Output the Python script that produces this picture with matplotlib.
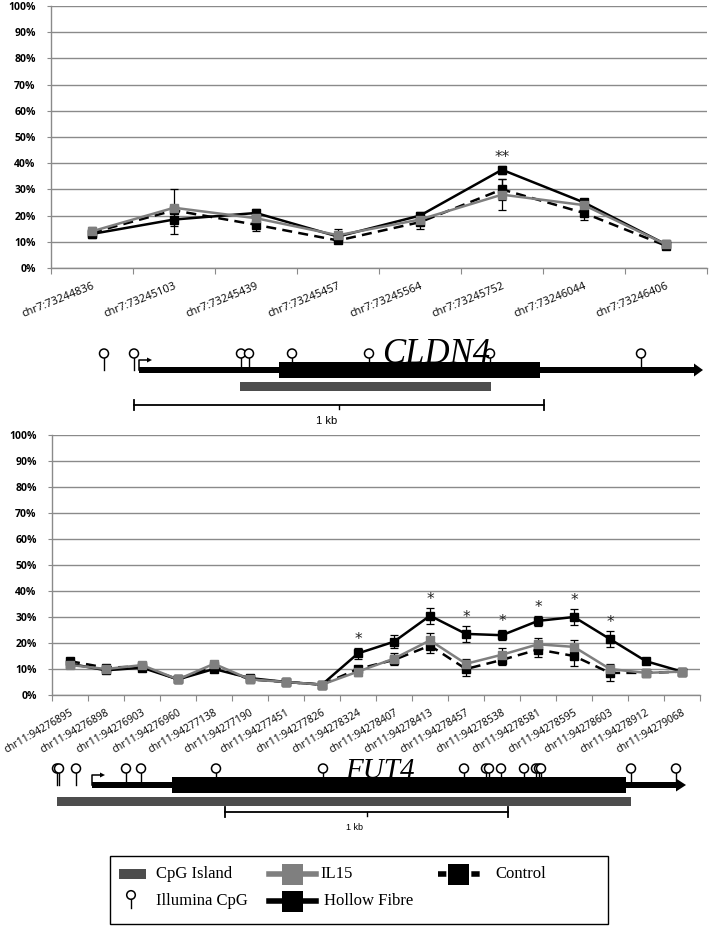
import matplotlib
matplotlib.use("Agg")
import matplotlib.pyplot as plt
from matplotlib.patches import Rectangle, Polygon, Circle

# ---------------- data ----------------
cldn4_sites = ["chr7:73244836", "chr7:73245103", "chr7:73245439", "chr7:73245457",
               "chr7:73245564", "chr7:73245752", "chr7:73246044", "chr7:73246406"]
cldn4_hollow = [13, 18.5, 21, 12, 20, 37.5, 25, 9]
cldn4_il15 = [14, 23, 19, 12.5, 18.5, 28, 24, 9]
cldn4_control = [13.5, 22, 16.5, 10.5, 17.5, 30, 21, 8.5]
cldn4_hollow_err = [1.5, 5.5, 1.5, 0.5, 1.5, 1.5, 1, 1]
cldn4_il15_err = [1.5, 7, 2, 2.5, 2, 6, 2.5, 1]
cldn4_control_err = [1.5, 1, 2.5, 0.5, 2.5, 4, 2.5, 1]
cldn4_sig = {5: "**"}

fut4_sites = ["chr11:94276895", "chr11:94276898", "chr11:94276903", "chr11:94276960",
              "chr11:94277138", "chr11:94277190", "chr11:94277451", "chr11:94277826",
              "chr11:94278324", "chr11:94278407", "chr11:94278413", "chr11:94278457",
              "chr11:94278538", "chr11:94278581", "chr11:94278595", "chr11:94278603",
              "chr11:94278912", "chr11:94279068"]
fut4_hollow = [12, 9.5, 10.5, 6, 10, 6.5, 5, 4, 16, 20.5, 30.5, 23.5, 23, 28.5, 30, 21.5, 13, 9]
fut4_il15 = [11.5, 10, 11.5, 6, 12, 6, 5, 4, 9, 14, 21, 12, 15.5, 19.5, 18.5, 10, 8.5, 9]
fut4_control = [13, 10.5, 11, 6, 11, 6, 5, 4, 10, 13.5, 19, 10, 13.5, 17.5, 15, 8.5, 8.5, 9]
fut4_hollow_err = [0.5, 0.5, 0.5, 0.5, 0.5, 0.5, 0.5, 0.5, 2, 2.5, 3, 3, 2, 2, 3, 3, 0.5, 0.5]
fut4_il15_err = [1, 1, 1, 0.5, 1, 0.5, 0.5, 0.5, 1.5, 2, 3, 2, 2.5, 2.5, 2.5, 2, 1, 0.5]
fut4_control_err = [1, 1, 1, 0.5, 1, 0.5, 0.5, 0.5, 1, 2, 3, 2.5, 2, 3, 4, 3, 1, 0.5]
fut4_sig = {8: "*", 10: "*", 11: "*", 12: "*", 13: "*", 14: "*", 15: "*"}

y_ticks = [0, 10, 20, 30, 40, 50, 60, 70, 80, 90, 100]

# gene schematic features (pixel layout of the drawing)
cldn4_lollipops = [104, 134, 241, 249, 292, 369, 490, 641]
fut4_lollipops = [57, 59, 76, 126, 141, 216, 323, 464, 486, 489, 501, 524, 536, 539, 541, 631, 676]

W, H = 713, 926
GRID = "#8a8a8a"
GRAY = "#7f7f7f"
TICKFONT = "Open Sans"

fig = plt.figure(figsize=(W / 100, H / 100), dpi=100)


def px_axes(left, top, right, bottom):
    return fig.add_axes([left / W, 1 - bottom / H, (right - left) / W, (bottom - top) / H])


def draw_chart(ax, sites, hollow, il15, control, he, ie, ce, sig, rot, xfs):
    n = len(sites)
    x = list(range(n))
    ax.set_xlim(-0.5, n - 0.5)
    ax.set_ylim(0, 100)
    ax.set_yticks(y_ticks)
    ax.set_yticklabels([f"{v}%" for v in y_ticks], fontsize=7.5, fontweight="bold",
                       family=TICKFONT)
    ax.yaxis.grid(True, color=GRID, lw=1.0)
    ax.set_axisbelow(True)
    for s in ["top", "right"]:
        ax.spines[s].set_visible(False)
    for s in ["left", "bottom"]:
        ax.spines[s].set_color(GRID)
        ax.spines[s].set_linewidth(1.0)
    ax.set_xticks([i - 0.5 for i in range(n + 1)])
    ax.set_xticklabels([])
    ax.set_xticks(x, minor=True)
    ax.set_xticklabels(sites, minor=True, rotation=rot, ha="right", rotation_mode="anchor",
                       fontsize=xfs, family=TICKFONT)
    ax.tick_params(axis="x", which="major", length=4, color=GRID, direction="out")
    ax.tick_params(axis="x", which="minor", length=0, pad=9)
    ax.tick_params(axis="y", length=3, color=GRID, direction="out", pad=8)
    ek = dict(ecolor="black", elinewidth=0.9, capsize=3, capthick=0.9)
    ax.errorbar(x, control, yerr=ce, color="black", lw=1.8, ls=(0, (4, 2.5)), marker="s",
                ms=5.5, mfc="black", mec="black", zorder=3, **ek)
    ax.errorbar(x, hollow, yerr=he, color="black", lw=1.8, marker="s", ms=5.5,
                mfc="black", mec="black", zorder=4, **ek)
    ax.errorbar(x, il15, yerr=ie, color=GRAY, lw=1.8, marker="s", ms=5.5,
                mfc=GRAY, mec=GRAY, zorder=5, **ek)
    for i, s in sig.items():
        ax.text(i, hollow[i] + he[i] + 3.2, s, ha="center", va="center", fontsize=11,
                family="DejaVu Sans", color="#222222")


ax1 = px_axes(51, 6, 707, 268)
draw_chart(ax1, cldn4_sites, cldn4_hollow, cldn4_il15, cldn4_control,
           cldn4_hollow_err, cldn4_il15_err, cldn4_control_err, cldn4_sig, 22, 8)
ax2 = px_axes(52, 435, 700, 695)
draw_chart(ax2, fut4_sites, fut4_hollow, fut4_il15, fut4_control,
           fut4_hollow_err, fut4_il15_err, fut4_control_err, fut4_sig, 30, 7.5)

# ---------------- overlay for gene schematics and legend ----------------
ov = fig.add_axes([0, 0, 1, 1])
ov.set_xlim(0, W)
ov.set_ylim(H, 0)
ov.axis("off")
ov.patch.set_alpha(0)

ISLAND = "#4d4d4d"


def gene(tss, line_end, tip, box_l, box_r, ly, isl_l, isl_r, lolls, sb_l, sb_r, sb_y,
         name, name_x, name_size, kb_size):
    ov.add_patch(Rectangle((tss, ly - 3), line_end - tss, 6, color="black", lw=0))
    ov.add_patch(Polygon([[line_end, ly - 6.5], [tip, ly], [line_end, ly + 6.5]],
                         closed=True, color="black", lw=0))
    ov.add_patch(Rectangle((box_l, ly - 8), box_r - box_l, 16, color="black", lw=0))
    ov.add_patch(Rectangle((isl_l, ly + 12), isl_r - isl_l, 9, color=ISLAND, lw=0))
    ov.plot([tss, tss, tss + 9], [ly, ly - 10, ly - 10], color="black", lw=1.1)
    ov.add_patch(Polygon([[tss + 8, ly - 12.5], [tss + 13, ly - 10], [tss + 8, ly - 7.5]],
                         closed=True, color="black", lw=0))
    for xl in lolls:
        ov.plot([xl, xl], [ly - 12, ly], color="black", lw=1.0, zorder=5)
        ov.add_patch(Circle((xl, ly - 16.5), 4.5, fc="white", ec="black", lw=1.1, zorder=6))
    ov.text(name_x, ly - 7, name, fontsize=name_size, style="italic",
            family="Liberation Serif", ha="center", va="baseline", zorder=7)
    mid = (sb_l + sb_r) / 2
    ov.plot([sb_l, sb_r], [sb_y, sb_y], color="black", lw=1.3)
    for xb in (sb_l, sb_r):
        ov.plot([xb, xb], [sb_y - 5, sb_y + 5], color="black", lw=1.3)
    ov.plot([mid, mid], [sb_y, sb_y + 4], color="black", lw=1.0)
    ov.text(mid - 12, sb_y + 16, "1 kb", fontsize=kb_size, family="Liberation Sans",
            ha="center", va="center")


gene(139, 694, 703, 279, 540, 370, 240, 491, cldn4_lollipops, 134, 544, 405,
     "CLDN4", 436, 25, 8)
gene(92, 676, 686, 172, 626, 785, 57, 631, fut4_lollipops, 225, 508, 812,
     "FUT4", 380, 21, 6.5)

# ---------------- legend ----------------
ov.add_patch(Rectangle((110, 856), 498, 68, fc="white", ec="black", lw=1.0))
r1, r2 = 874, 901
LF = dict(fontsize=12, family="Liberation Serif", va="center", ha="left")
ov.add_patch(Rectangle((119, r1 - 5), 27, 10, color=ISLAND, lw=0))
ov.text(156, r1, "CpG Island", **LF)
ov.plot([131, 131], [r2 - 2, r2 + 7], color="black", lw=1.0)
ov.add_patch(Circle((131, r2 - 6), 4.3, fc="white", ec="black", lw=1.1))
ov.text(156, r2, "Illumina CpG", **LF)
ov.plot([269, 316], [r1, r1], color=GRAY, lw=4)
ov.add_patch(Rectangle((282, r1 - 10.5), 21, 21, color=GRAY, lw=0))
ov.text(320, r1, "IL15", **LF)
ov.plot([269, 316], [r2, r2], color="black", lw=4)
ov.add_patch(Rectangle((282, r2 - 10.5), 21, 21, color="black", lw=0))
ov.text(324, r2, "Hollow Fibre", **LF)
ov.plot([438, 486], [r1, r1], color="black", lw=4, ls=(0, (1.5, 1.5)))
ov.add_patch(Rectangle((448, r1 - 10.5), 21, 21, color="black", lw=0))
ov.text(495, r1, "Control", **LF)

fig.savefig("out.png", dpi=100)
